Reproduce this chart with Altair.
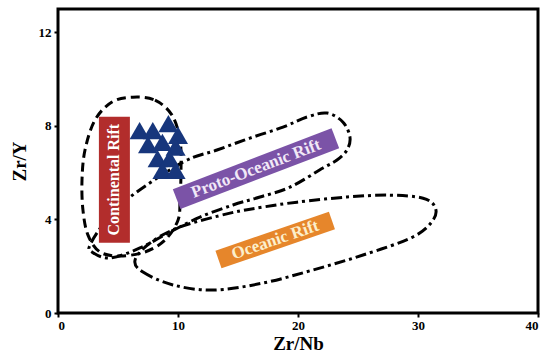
import altair as alt
import pandas as pd

# Sample compositions (Zr/Nb, Zr/Y)
sample_zr_nb = [6.8, 7.9, 9.2, 10.0, 7.5, 8.7, 9.8, 8.3, 9.3, 8.7, 9.8]
sample_zr_y = [7.8, 7.8, 8.1, 7.6, 7.2, 7.3, 7.1, 6.6, 6.6, 6.1, 6.1]

# Field outlines, traced as closed smooth curves
cont_x = [6.25, 8.08, 9.5, 10.17, 10.25, 10.17, 10.0, 8.92, 7.25, 5.17, 3.5, 2.5, 2.08, 2.0, 2.25, 3.08, 4.5]
cont_y = [9.23, 9.1, 8.46, 7.39, 6.11, 4.83, 3.97, 3.12, 2.61, 2.44, 2.61, 3.33, 4.4, 5.68, 6.97, 8.25, 9.02]

proto_x = [2.67, 3.92, 6.0, 10.42, 13.25, 16.0, 18.75, 20.75, 22.42, 23.75, 24.33, 24.08, 23.25,
           22.08, 19.33, 16.83, 14.58, 11.83, 9.33, 6.83, 4.33, 2.83]
proto_y = [2.91, 3.89, 4.96, 6.45, 6.97, 7.48, 7.95, 8.38, 8.55, 8.16, 7.52, 6.97, 6.54,
           6.20, 5.38, 4.96, 4.62, 4.10, 3.46, 2.78, 2.35, 2.61]

oce_x = [6.42, 7.08, 9.58, 12.92, 17.08, 21.25, 25.42, 29.58, 31.25, 31.42, 30.42, 27.67,
         24.08, 19.92, 17.08, 14.33, 10.17, 7.67]
oce_y = [2.26, 1.75, 1.20, 0.98, 1.28, 1.84, 2.48, 3.25, 3.97, 4.53, 4.91, 5.04,
         4.96, 4.74, 4.53, 4.27, 3.68, 2.99]

# Field labels
label_names = ["Continental Rift", "Proto-Oceanic Rift", "Oceanic Rift"]
label_x = [4.7, 16.5, 18.1]
label_y = [5.7, 6.17, 3.12]

FONT = "Liberation Serif"
xs = alt.Scale(domain=[0, 40], nice=False, zero=False)
ys = alt.Scale(domain=[0, 13], nice=False, zero=False)

x_axis = alt.Axis(values=[0, 10, 20, 30, 40], title="Zr/Nb", grid=False, domain=False,
                  tickColor="black", tickWidth=2, tickSize=4, labelPadding=2,
                  titleY=36, titleBaseline="alphabetic")
y_axis = alt.Axis(values=[0, 4, 8, 12], title="Zr/Y", grid=False, domain=False,
                  tickColor="black", tickWidth=2, tickSize=4, labelPadding=3,
                  titlePadding=9)


def outline(xv, yv, dash):
    df = pd.DataFrame({"x": xv, "y": yv, "i": list(range(len(xv)))})
    return alt.Chart(df).mark_line(
        interpolate="cardinal-closed", color="black", strokeWidth=3,
        strokeDash=dash, strokeCap="butt"
    ).encode(
        x=alt.X("x:Q", scale=xs, axis=x_axis),
        y=alt.Y("y:Q", scale=ys, axis=y_axis),
        order="i:Q",
    )


layers = [
    outline(cont_x, cont_y, [9, 5]),
    outline(proto_x, proto_y, [11, 4, 3, 4]),
    outline(oce_x, oce_y, [11, 4, 3, 4]),
]

# Label boxes: rectangle symbols rotated along each field
box_style = [
    # (half-width ratio, half-height ratio, long side px, angle, fill, text colour, text angle, font size)
    (0.246, 1.0, 126, 0, "#b22d2c", "#ffffff", 270, 16),
    (1.0, 0.125, 170, 339, "#7b53a7", "#f1e8f7", 339, 17),
    (1.0, 0.155, 120, 341, "#e6862b", "#fcefcc", 341, 17),
]

for k, name in enumerate(label_names):
    hw, hh, side, ang, fill, tcol, tang, fsz = box_style[k]
    df = pd.DataFrame({"x": [label_x[k]], "y": [label_y[k]], "label": [name]})
    path = f"M{-hw},{-hh}L{hw},{-hh}L{hw},{hh}L{-hw},{hh}Z"
    base = alt.Chart(df).encode(
        x=alt.X("x:Q", scale=xs, axis=x_axis),
        y=alt.Y("y:Q", scale=ys, axis=y_axis),
    )
    layers.append(base.mark_point(shape=path, filled=True, fill=fill, opacity=1,
                                  size=side * side, angle=ang, strokeWidth=0))
    layers.append(base.mark_text(font=FONT, fontWeight="bold", fontSize=fsz, color=tcol,
                                 angle=tang, align="center", baseline="middle")
                  .encode(text="label:N"))

samples = pd.DataFrame({"zr_nb": sample_zr_nb, "zr_y": sample_zr_y})
layers.append(
    alt.Chart(samples).mark_point(shape="triangle-up", filled=True, color="#17367c",
                                  opacity=1, size=400).encode(
        x=alt.X("zr_nb:Q", scale=xs, axis=x_axis),
        y=alt.Y("zr_y:Q", scale=ys, axis=y_axis),
    )
)

chart = alt.layer(*layers).properties(
    width=480, height=304,
    autosize=alt.AutoSizeParams(type="none"),
    padding={"left": 58, "top": 9, "right": 8, "bottom": 39},
    background="white",
).configure_view(
    stroke="black", strokeWidth=3
).configure_axis(
    labelFont=FONT, labelFontWeight="bold", labelFontSize=13, labelColor="black",
    titleFont=FONT, titleFontWeight="bold", titleFontSize=19, titleColor="black",
)

chart.save("out.html", embed_options={"renderer": "svg", "actions": False})
